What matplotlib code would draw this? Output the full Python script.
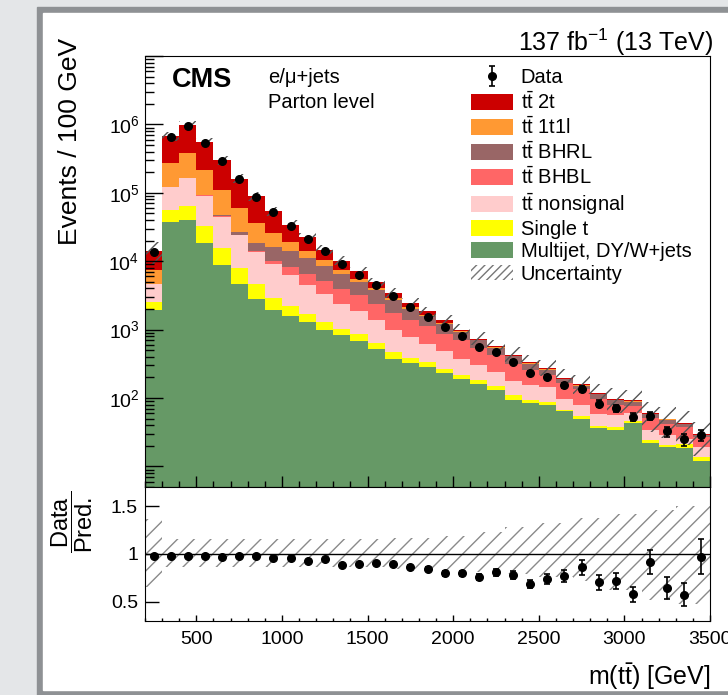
import numpy as np
import matplotlib.pyplot as plt
from matplotlib.patches import Patch, Rectangle
from matplotlib.ticker import FixedLocator, MultipleLocator, NullFormatter, LogLocator, FuncFormatter

plt.rcParams['font.family'] = ['Liberation Sans', 'DejaVu Sans']
plt.rcParams['mathtext.fontset'] = 'custom'
plt.rcParams['mathtext.rm'] = 'Liberation Sans'
plt.rcParams['mathtext.it'] = 'Liberation Sans:italic'
plt.rcParams['mathtext.bf'] = 'Liberation Sans:bold'
plt.rcParams['hatch.linewidth'] = 1.0

# m(tt) bins, 100 GeV wide
edges = np.arange(200, 3501, 100)
centers = 0.5 * (edges[:-1] + edges[1:])

# stacked predictions (events / 100 GeV), bottom -> top
multijet = [1915, 37400, 39600, 18450, 8900, 4700, 2840, 1960, 1560, 1290, 1000, 826, 681, 515, 377, 325, 284,
            232, 192, 162, 130, 94.8, 84.6, 78.2, 65, 48.8, 36.4, 34.5, 43, 22, 19.2, 18.8, 11.9]
single_t = [595, 18100, 24500, 13950, 6700, 3350, 1750, 980, 630, 420, 290, 209, 172, 131, 94, 65, 52,
            37, 28, 19, 18, 14.2, 10.2, 9.3, 1.5, 5.2, 3.1, 3.1, 2.5, 2.7, 1.1, 2.2, 1.6]
tt_nonsignal = [2080, 65400, 101600, 58700, 29300, 16150, 9210, 6060, 4010, 2730, 1990, 1365, 997, 724, 506, 390, 288,
                218, 157, 120, 92, 68, 58.2, 57.5, 31.5, 26, 19.5, 18.2, 14.9, 9, 8.2, 4.5, 5.7]
tt_bhbl = [15, 300, 400, 300, 400, 300, 300, 1070, 2000, 1990, 1800, 1570, 1320, 970, 773, 620, 496,
           366, 321, 237, 181, 141, 101, 70, 68, 57, 39, 22.2, 15.2, 17.9, 12.8, 12.2, 7.7]
tt_bhrl = [25, 500, 600, 400, 2700, 2200, 4350, 6080, 5800, 4670, 3420, 2530, 1800, 1420, 1000, 630, 440,
           337, 225, 160, 125, 89, 64, 45, 22, 14, 15, 15, 12.9, 7, 7.2, 4.3, 1.7]
tt_1t1l = [2700, 154300, 220300, 121200, 61000, 33300, 17650, 9650, 5100, 3000, 1800, 1040, 600, 300, 150, 110, 100,
           60, 32, 16, 11, 10, 7, 6, 4, 2, 1, 1.8, 1, 0.5, 0.4, 0.3, 0.2]
tt_2t = [6630, 394000, 583000, 340000, 190000, 101000, 52900, 27900, 15200, 8500, 4500, 2660, 1530, 910, 580, 340, 190,
         120, 45, 24, 19, 14, 11, 9, 7, 5, 4, 3.2, 3, 1.3, 1.1, 0.9, 0.6]

data = [13720, 658600, 946700, 539700, 290600, 157600, 86900, 51660, 32760, 20860, 13970, 9060, 6380, 4500, 3100,
        2150, 1554, 1092, 797, 560, 465, 336, 231, 203, 153, 136, 83, 70.6, 53.6, 55.3, 32.4, 24.9, 28.6]
data_err = [117, 812, 973, 735, 539, 397, 295, 227, 181, 144, 118, 95, 80, 67, 56, 46, 39, 33, 28, 24, 22, 18,
            15, 14, 12, 12, 9, 8.4, 7.3, 7.4, 5.7, 5.0, 5.3]

# relative uncertainty of the prediction (up / down)
unc_up = [0.37, 0.16, 0.16, 0.16, 0.16, 0.16, 0.16, 0.16, 0.16, 0.16, 0.16, 0.16, 0.16, 0.16, 0.17, 0.17, 0.17,
          0.19, 0.19, 0.23, 0.23, 0.28, 0.28, 0.32, 0.32, 0.38, 0.38, 0.42, 0.42, 0.46, 0.46, 0.50, 0.50]
unc_dn = [0.34, 0.14, 0.14, 0.14, 0.14, 0.14, 0.14, 0.14, 0.14, 0.14, 0.14, 0.14, 0.14, 0.14, 0.16, 0.16, 0.16,
          0.17, 0.17, 0.19, 0.19, 0.21, 0.21, 0.24, 0.24, 0.28, 0.28, 0.38, 0.38, 0.48, 0.48, 0.52, 0.52]

components = [
    (multijet, '#669966', 'Multijet, DY/W+jets'),
    (single_t, '#ffff00', 'Single t'),
    (tt_nonsignal, '#ffcccc', r'$\mathrm{t\bar{t}}$ nonsignal'),
    (tt_bhbl, '#ff6666', r'$\mathrm{t\bar{t}}$ BHBL'),
    (tt_bhrl, '#996666', r'$\mathrm{t\bar{t}}$ BHRL'),
    (tt_1t1l, '#ff9933', r'$\mathrm{t\bar{t}}$ 1t1l'),
    (tt_2t, '#cc0000', r'$\mathrm{t\bar{t}}$ 2t'),
]

W, H = 728, 695
fig = plt.figure(figsize=(W / 100, H / 100), dpi=100)
fig.patch.set_facecolor('#e4e6e8')
# screenshot frame
fig.patches.append(Rectangle((37 / W, 0), 1, (H - 7) / H, transform=fig.transFigure, color='#8e9194', zorder=-5))
fig.patches.append(Rectangle((43 / W, 5 / H), 1, (H - 18) / H, transform=fig.transFigure, color='white', zorder=-4))

ax = fig.add_axes([145 / W, 1 - 487 / H, 565 / W, 431 / H])
rax = fig.add_axes([145 / W, 1 - 621 / H, 565 / W, 134 / H], sharex=ax)
ax.set_yscale('log', nonpositive='clip')

bottom = np.zeros(len(centers))
handles = []
for vals, col, lab in components:
    top = bottom + np.array(vals)
    ax.stairs(top, edges, baseline=bottom, fill=True, color=col, linewidth=0)
    handles.append(Patch(facecolor=col, edgecolor='none', label=lab))
    bottom = top
total = bottom

up = np.array(unc_up)
dn = np.array(unc_dn)
ax.stairs(total * (1 + up), edges, baseline=total * (1 - dn), fill=True, facecolor='none',
          edgecolor='#555555', hatch='//', linewidth=0)
dat = ax.errorbar(centers, data, yerr=data_err, fmt='o', color='black', ms=5.5, elinewidth=1.2,
                  capsize=2.2, capthick=1.2, zorder=5)

ax.set_xlim(200, 3500)
ax.set_ylim(5, 1e7)
ax.yaxis.set_major_locator(FixedLocator([1e1, 1e2, 1e3, 1e4, 1e5, 1e6, 1e7]))
ax.yaxis.set_major_formatter(FuncFormatter(
    lambda v, p: r'$10^{%d}$' % round(np.log10(v)) if 1e2 <= v <= 1e6 else ''))
ax.yaxis.set_minor_locator(LogLocator(base=10, subs=np.arange(2, 10)))
ax.yaxis.set_minor_formatter(NullFormatter())
ax.xaxis.set_major_locator(MultipleLocator(500))
ax.xaxis.set_minor_locator(MultipleLocator(100))
ax.tick_params(axis='y', which='major', direction='in', length=13, width=1, labelsize=14, pad=4)
ax.tick_params(axis='y', which='minor', direction='in', length=6.5, width=1)
ax.tick_params(axis='x', which='major', direction='in', length=8, width=1, labelbottom=False)
ax.tick_params(axis='x', which='minor', direction='in', length=4, width=1)

ax.text(0.048, 0.944, 'CMS', transform=ax.transAxes, fontsize=19.5, fontweight='bold', va='center', ha='left')
ax.text(0.218, 0.951, 'e/μ+jets', transform=ax.transAxes, fontsize=14.5, va='center', ha='left')
ax.text(0.218, 0.891, 'Parton level', transform=ax.transAxes, fontsize=14.5, va='center', ha='left')

unc_handle = Patch(facecolor='none', edgecolor='#777777', hatch='////', linewidth=0, label='Uncertainty')
leg_handles = [dat] + handles[::-1] + [unc_handle]
leg_labels = ['Data'] + [h.get_label() for h in handles[::-1]] + ['Uncertainty']
ax.legend(leg_handles, leg_labels, loc='upper left', bbox_to_anchor=(0.577, 0.971), borderaxespad=0,
          borderpad=0, frameon=False, fontsize=14.5, handlelength=2.09, handleheight=0.84,
          handletextpad=0.38, labelspacing=0.16)

# ratio panel
ratio = np.array(data) / total
ratio_err = np.array(data_err) / total
rax.stairs(1 + up, edges, baseline=1 - dn, fill=True, facecolor='none', edgecolor='#8a8a8a',
           hatch='//', linewidth=0)
rax.axhline(1, color='black', linewidth=1)
rax.errorbar(centers, ratio, yerr=ratio_err, fmt='o', color='black', ms=5.5, elinewidth=1.2,
             capsize=2.2, capthick=1.2, zorder=5)
rax.set_ylim(0.3, 1.7)
rax.set_yticks([0.5, 1, 1.5])
rax.set_yticklabels(['0.5', '1', '1.5'])
rax.xaxis.set_major_locator(MultipleLocator(500))
rax.xaxis.set_minor_locator(MultipleLocator(100))
rax.tick_params(axis='y', which='major', direction='in', length=10, width=1, labelsize=14, pad=5)
rax.tick_params(axis='x', which='major', direction='in', length=4, width=1, labelsize=14, pad=7)
rax.tick_params(axis='x', which='minor', direction='in', length=2.2, width=1)

fig.text(713 / W, 1 - 42 / H, r'137 fb$^{-1}$ (13 TeV)', fontsize=18, ha='right', va='center')
fig.text(70 / W, 1 - 38 / H, 'Events / 100 GeV', fontsize=19, rotation=90, ha='center', va='top')
fig.text(72 / W, 1 - 522 / H, r'$\dfrac{\mathrm{Data}}{\mathrm{Pred.}}$', fontsize=17, rotation=90,
         ha='center', va='center')
fig.text(710 / W, 1 - 677 / H, r'm(t$\bar{\mathrm{t}}$) [GeV]', fontsize=18, ha='right', va='center')

fig.savefig('out.png', dpi=100, facecolor=fig.get_facecolor())
